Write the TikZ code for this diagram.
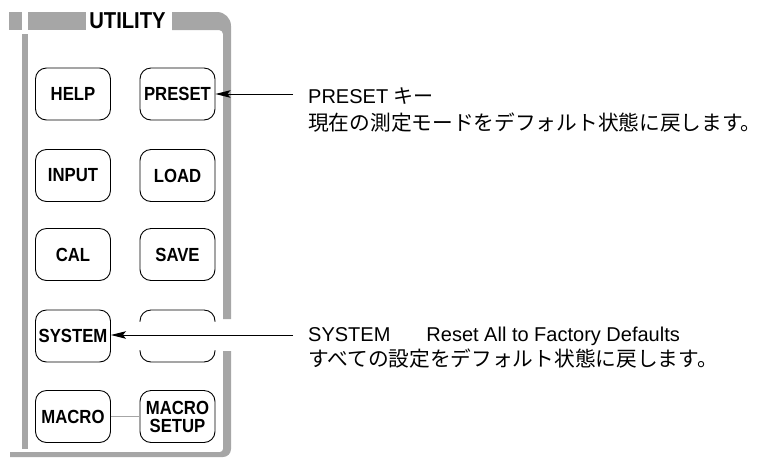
\documentclass[tikz,border=0pt]{standalone}
\usepackage{fontspec}
\setmainfont{Liberation Sans}
\newfontfamily\jpfont{Noto Sans CJK JP}
\newfontfamily\keyfont{Liberation Sans}[FakeStretch=0.88]
\usetikzlibrary{arrows.meta}
\definecolor{framegray}{RGB}{166,166,166}

\begin{document}
\begin{tikzpicture}[x=1pt,y=-1pt]
\tikzset{
  keybox/.style={draw,rounded corners=11pt,line width=0.9pt,minimum width=75pt,minimum height=52pt,inner sep=0pt,align=center,font=\keyfont\fontsize{19}{19}\selectfont\bfseries},
  pointer/.style={-{Stealth[length=15pt,width=7.5pt,inset=3pt]},line width=1pt},
  note/.style={anchor=base west,inner sep=0pt,font=\fontsize{20}{24}\selectfont},
  jpnote/.style={note,font=\jpfont\fontsize{20.7}{24}\selectfont},
  link/.style={framegray,line width=1.5pt}
}
\useasboundingbox (0,0) rectangle (774,459);
% panel frame
\fill[framegray] (9,12) rectangle (22,30);
\fill[framegray] (28,12) rectangle (86,30);
\fill[framegray] (22,34) rectangle (28,449);
\fill[framegray] (172,12) -- (217,12) arc[start angle=-90,end angle=0,radius=14]
  -- (231,319) -- (223,319) -- (223,34) arc[start angle=0,end angle=-90,radius=4]
  -- (172,30) -- cycle;
\fill[framegray] (223,351) -- (231,351) -- (231,449) arc[start angle=0,end angle=90,radius=8]
  -- (10,457) -- (10,452) -- (220,452) arc[start angle=90,end angle=0,radius=3] -- cycle;
\node[font=\keyfont\fontsize{23}{24}\selectfont\bfseries] (title) at (127.5,21) {UTILITY};
% keys
\node[keybox] (help) at (73,94) {HELP};
\node[keybox] (preset) at (177.5,94) {PRESET};
\node[keybox] (input) at (73,175.5) {INPUT};
\node[keybox] (load) at (177.5,175.5) {LOAD};
\node[keybox] (cal) at (73,254.5) {CAL};
\node[keybox] (save) at (177.5,254.5) {SAVE};
\node[keybox] (system) at (73,336) {SYSTEM};
\node[keybox] (blank) at (177.5,336) {};
\node[keybox] (macro) at (73,416.5) {MACRO};
\node[keybox] (macrosetup) at (177.5,416.5) {MACRO\\[-1pt]SETUP};
\fill[white] (136,322) rectangle (220,350);
\draw[link] (macro) -- (macrosetup);
% callouts
\coordinate (presetend) at (293,94);
\coordinate (systemend) at (293,335);
\draw[pointer] (presetend) -- (preset.east);
\draw[pointer] (systemend) -- (system.east |- systemend);
\node[note] (presetnote) at (308,103) {PRESET {\jpfont キー}};
\node[jpnote] (presetdesc) at (308,130) {現在の測定モードをデフォルト状態に戻します。};
\node[note] (systemnote) at (308,341) {SYSTEM\hspace{1.8em}Reset All to Factory Defaults};
\node[jpnote] (systemdesc) at (308,366) {すべての設定をデフォルト状態に戻します。};
\end{tikzpicture}
\end{document}
